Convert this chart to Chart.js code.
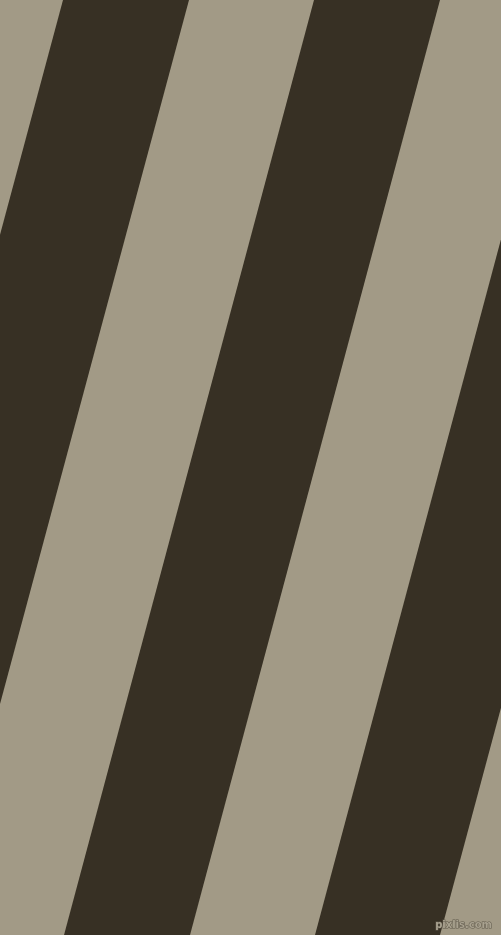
<!DOCTYPE html>
<html>
<head>
<meta charset="utf-8">
<script src="https://cdn.jsdelivr.net/npm/chart.js@4/dist/chart.umd.min.js"></script>
<style>
  html, body { margin: 0; padding: 0; background: #a29a86; overflow: hidden; }
  canvas { display: block; }
</style>
</head>
<body>
<canvas id="stripes" width="501" height="935"></canvas>
<script>
// Dark stripe edges, x where each edge crosses the top (y = 0) and bottom (y = 935)
const darkTopLeft = [63, 314, 565];
const darkTopRight = [189, 440, 691];
const darkBottomLeft = [-188, 64, 315];
const darkBottomRight = [-62, 190, 440];
const yTop = 0;
const yBottom = 935;

const lightColor = '#a29a86';
const darkColor = '#373024';

function stripePoints(i) {
    return [
        { x: darkTopLeft[i], y: yTop },
        { x: darkTopRight[i], y: yTop },
        { x: darkBottomRight[i], y: yBottom },
        { x: darkBottomLeft[i], y: yBottom },
        { x: darkTopLeft[i], y: yTop }
    ];
}

const datasets = darkTopLeft.map((_, i) => ({
    data: stripePoints(i),
    showLine: true,
    fill: 'shape',
    backgroundColor: darkColor,
    borderColor: darkColor,
    borderWidth: 0,
    pointRadius: 0,
    tension: 0
}));

// Small site mark in the lower right corner
const watermark = {
    id: 'watermark',
    afterDraw(chart) {
        const ctx = chart.ctx;
        ctx.save();
        ctx.font = 'bold 10px "DejaVu Sans", sans-serif';
        ctx.textAlign = 'right';
        ctx.textBaseline = 'alphabetic';
        ctx.lineWidth = 1;
        ctx.strokeStyle = '#5f594b';
        ctx.strokeText('pixlis.com', 492, 928);
        ctx.fillStyle = '#a8a18f';
        ctx.fillText('pixlis.com', 492, 928);
        ctx.restore();
    }
};

const bgFill = {
    id: 'bgFill',
    beforeDraw(chart) {
        const ctx = chart.ctx;
        ctx.save();
        ctx.fillStyle = lightColor;
        ctx.fillRect(0, 0, chart.width, chart.height);
        ctx.restore();
    }
};

new Chart(document.getElementById('stripes').getContext('2d'), {
    type: 'scatter',
    data: { datasets: datasets },
    options: {
        responsive: false,
        animation: false,
        layout: { padding: 0 },
        scales: {
            x: { type: 'linear', min: 0, max: 501, display: false },
            y: { type: 'linear', min: yTop, max: yBottom, reverse: true, display: false }
        },
        plugins: {
            legend: { display: false },
            tooltip: { enabled: false }
        }
    },
    plugins: [bgFill, watermark]
});
</script>
</body>
</html>
